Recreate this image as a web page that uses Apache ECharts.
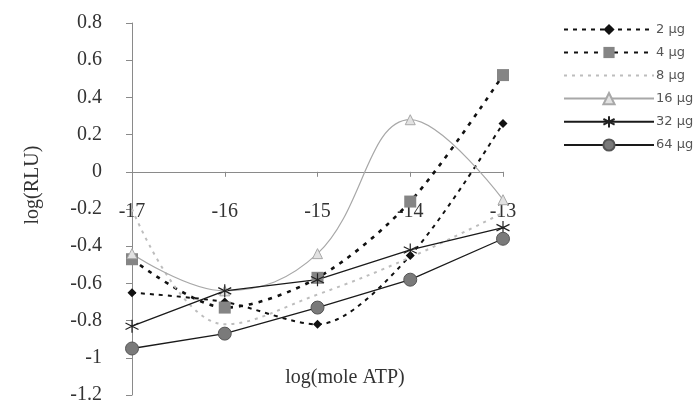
<!DOCTYPE html>
<html>
<head>
<meta charset="utf-8">
<script src="https://cdn.jsdelivr.net/npm/echarts@6/dist/echarts.min.js"></script>
<style>
  html, body { margin: 0; padding: 0; background: #fff; }
  #chart { width: 696px; height: 402px; }
</style>
</head>
<body>
<div id="chart"></div>
<script>
// log(mole ATP) on the x axis
const atpLog = [-17, -16, -15, -14, -13];

// log(RLU) for each amount of protein
const rlu2ug  = [-0.65, -0.70, -0.82, -0.45, 0.26];
const rlu4ug  = [-0.47, -0.73, -0.57, -0.16, 0.52];
const rlu8ug  = [-0.20, -0.82, -0.66, -0.46, -0.22];
const rlu16ug = [-0.44, -0.64, -0.44, 0.28, -0.15];
const rlu32ug = [-0.83, -0.64, -0.58, -0.42, -0.30];
const rlu64ug = [-0.95, -0.87, -0.73, -0.58, -0.36];

const seriesNames = ['2 µg', '4 µg', '8 µg', '16 µg', '32 µg', '64 µg'];

const yTicks = { min: -1.2, max: 0.8, step: 0.2 };

const pairs = (ys) => atpLog.map((x, i) => [x, ys[i]]);

const serif = 'Liberation Serif';
const asterisk = 'path://M5,0L5,10M0.7,2.5L9.3,7.5M0.7,7.5L9.3,2.5';

// plot area in pixels; the x axis is lifted from the bottom edge to y = 0
const plot = { left: 132, right: 193, top: 23, bottom: 7 };
const plotHeight = 402 - plot.top - plot.bottom;
const zeroLift = plotHeight * (0 - yTicks.min) / (yTicks.max - yTicks.min);

const chart = echarts.init(document.getElementById('chart'), null, { renderer: 'canvas' });

chart.setOption({
  animation: false,
  backgroundColor: '#ffffff',
  grid: Object.assign({ outerBoundsMode: 'none', containLabel: false }, plot),
  xAxis: {
    type: 'value',
    min: atpLog[0],
    max: atpLog[atpLog.length - 1],
    interval: 1,
    offset: -zeroLift,
    axisLine: { onZero: false, lineStyle: { color: '#8a8a8a', width: 1 } },
    axisTick: { show: true, length: 5, lineStyle: { color: '#8a8a8a' } },
    axisLabel: { margin: 30, fontFamily: serif, fontSize: 20, color: '#333' },
    splitLine: { show: false }
  },
  yAxis: {
    type: 'value',
    min: yTicks.min,
    max: yTicks.max,
    interval: yTicks.step,
    axisLine: { show: true, onZero: false, lineStyle: { color: '#8a8a8a', width: 1 } },
    axisTick: { show: true, length: 6, lineStyle: { color: '#8a8a8a' } },
    axisLabel: { margin: 30, fontFamily: serif, fontSize: 20, color: '#333' },
    splitLine: { show: false }
  },
  legend: {
    orient: 'vertical',
    left: 558,
    top: 18,
    itemWidth: 90,
    itemHeight: 14,
    itemGap: 10,
    textStyle: { fontFamily: 'DejaVu Sans', fontSize: 13, color: '#555', padding: [0, 0, 0, -3] },
    data: [
      seriesNames[0],
      seriesNames[1],
      { name: seriesNames[2], itemStyle: { opacity: 0 } },
      seriesNames[3],
      seriesNames[4],
      seriesNames[5]
    ]
  },
  graphic: [
    {
      type: 'text',
      x: 33, y: 185,
      rotation: Math.PI / 2,
      style: {
        text: 'log(RLU)', fontFamily: serif, fontSize: 20, fill: '#333',
        align: 'center', verticalAlign: 'middle'
      }
    },
    {
      type: 'text',
      x: 345, y: 378,
      style: {
        text: 'log(mole ATP)', fontFamily: serif, fontSize: 20, fill: '#333',
        align: 'center', verticalAlign: 'middle'
      }
    }
  ],
  series: [
    {
      name: seriesNames[0], type: 'line', data: pairs(rlu2ug), smooth: 0.3,
      symbol: 'diamond', symbolSize: 9,
      itemStyle: { color: '#111' },
      lineStyle: { color: '#111', width: 2, type: [4, 5] }
    },
    {
      name: seriesNames[1], type: 'line', data: pairs(rlu4ug), smooth: 0.3,
      symbol: 'rect', symbolSize: 12,
      itemStyle: { color: '#858585' },
      lineStyle: { color: '#111', width: 2.6, type: [4, 6] }
    },
    {
      name: seriesNames[2], type: 'line', data: pairs(rlu8ug), smooth: 0.4,
      symbol: 'none',
      itemStyle: { color: '#bdbdbd' },
      lineStyle: { color: '#bdbdbd', width: 2, type: [3, 5] }
    },
    {
      name: seriesNames[3], type: 'line', data: pairs(rlu16ug), smooth: 0.4,
      symbol: 'triangle', symbolSize: 10,
      itemStyle: { color: '#e2e2e2', borderColor: '#a8a8a8', borderWidth: 1 },
      lineStyle: { color: '#a8a8a8', width: 1.2 }
    },
    {
      name: seriesNames[4], type: 'line', data: pairs(rlu32ug),
      symbol: asterisk, symbolSize: 13,
      itemStyle: { color: '#222', borderColor: '#222', borderWidth: 1.2 },
      lineStyle: { color: '#1a1a1a', width: 1.3 }
    },
    {
      name: seriesNames[5], type: 'line', data: pairs(rlu64ug),
      symbol: 'circle', symbolSize: 13,
      itemStyle: { color: '#7a7a7a', borderColor: '#555', borderWidth: 1 },
      lineStyle: { color: '#1a1a1a', width: 1.3 }
    }
  ]
});
</script>
</body>
</html>
